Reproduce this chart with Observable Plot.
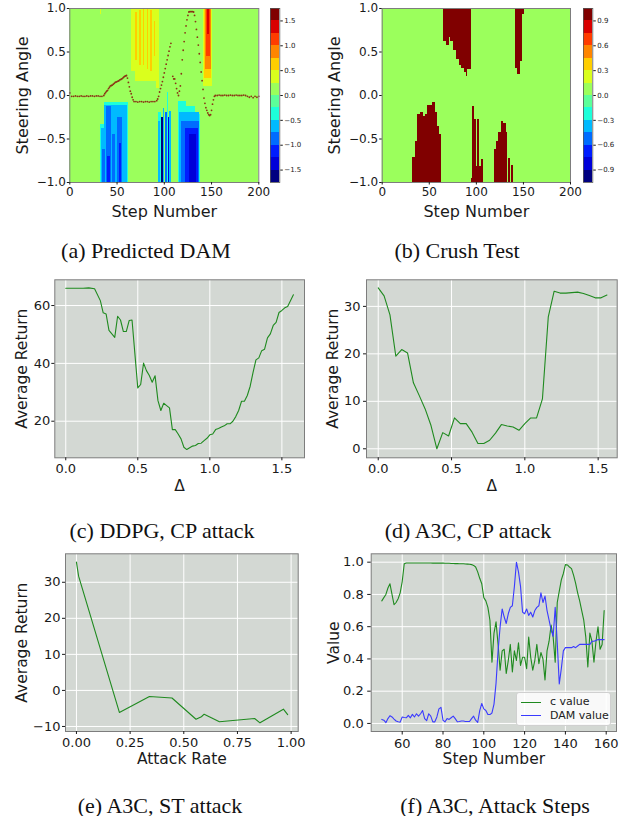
<!DOCTYPE html>
<html><head><meta charset="utf-8">
<script src="https://cdn.jsdelivr.net/npm/d3@7"></script>
<script src="https://cdn.jsdelivr.net/npm/@observablehq/plot@0.6"></script>
<style>
body{margin:0;background:#fff;}
#page{position:relative;width:635px;height:816px;overflow:hidden;font-family:"DejaVu Sans";}
.panel{position:absolute;}
.panel svg{overflow:visible;}
.cap{position:absolute;font-family:"Liberation Serif";font-size:22px;line-height:21px;white-space:nowrap;transform:translateX(-50%);color:#111;}
.legend{position:absolute;left:516px;top:692px;width:93px;height:32px;background:rgba(255,255,255,0.85);border:1px solid #d0d0d0;border-radius:3px;font-family:"DejaVu Sans";font-size:11px;color:#222;}
.legend .row{position:absolute;left:4px;height:13px;line-height:13px;white-space:nowrap;}
.legend .swatch{display:inline-block;width:20px;height:0;vertical-align:middle;margin-right:9px;}
</style></head>
<body><div id="page"></div>
<script>
// ---------------- data ----------------
// (a) Predicted DAM: contour regions [step1, step2, angle1, angle2, value]
const damBackground = [[0, 200, -1, 1, 0.1]];
const damRegions = [
  [33, 34, 0.93, 1.0, 0.35],
  [65, 69, 0.28, 1.0, 0.35], [69, 92, 0.16, 1.0, 0.35], [92, 95, 0.08, 1.0, 0.35],
  [70, 71.5, 0.40, 0.95, 0.6], [73.5, 75.5, 0.35, 0.98, 0.6], [77.5, 79.5, 0.35, 1.0, 0.6],
  [82, 83.5, 0.30, 1.0, 0.6], [85.5, 87.5, 0.28, 0.98, 0.6], [89.5, 90.5, 0.45, 0.85, 0.6],
  [141.5, 150.5, 0.10, 1.0, 0.35], [142.5, 150, 0.20, 1.0, 0.6], [143.5, 149.5, 0.30, 1.0, 0.85],
  [144.5, 148.5, 0.45, 1.0, 1.1], [145.5, 147.5, 0.70, 1.0, 1.35],
  [33, 36.5, -1, -0.33, -0.35], [36.5, 62.5, -1, -0.08, -0.35],
  [34, 37, -1, -0.38, -0.6], [37, 61.5, -1, -0.11, -0.6],
  [35, 37.5, -1, -0.62, -0.85], [38.5, 44.5, -1, -0.13, -0.85], [45.5, 48, -1, -0.45, -0.85],
  [51, 56, -1, -0.25, -0.85], [59.5, 60.5, -1, -0.15, -0.85],
  [40, 43, -1, -0.70, -1.1], [53, 55, -1, -0.55, -1.1],
  [93.5, 97, -1, -0.2, -0.35], [94, 96.5, -1, -0.3, -0.6], [97.5, 99, -1, -0.25, -1.6],
  [99, 100.5, -1, -0.15, -0.6], [101, 103, -1, -0.2, -0.85], [103.5, 104.5, -1, 0.03, -0.35],
  [104.5, 106, -1, -0.25, -1.35], [106, 108, -1, -0.18, -0.6],
  [115.5, 123, -1, -0.07, -0.35], [123, 132.5, -1, -0.13, -0.35], [132.5, 138, -1, -0.22, -0.35],
  [116.5, 137.5, -1, -0.2, -0.6], [118, 137, -1, -0.3, -0.85], [122, 136, -1, -0.38, -1.1],
  [127, 134, -1, -0.45, -1.35]
];
// (a) steering trajectory [step, angle]
const damTrajectory = [
  [0,0.03],[2,-0.01],[4,-0.01],[6,-0.005],[8,-0.01],[10,-0.01],[12,-0.005],[14,-0.01],[16,-0.01],[18,-0.005],
  [20,-0.01],[22,-0.005],[24,-0.005],[26,-0.01],[28,-0.005],[30,-0.005],[32,-0.01],[34,-0.01],[36,0.0],
  [37,0.02],[38,0.035],[39,0.05],[40,0.06],[41,0.08],[42,0.095],[43,0.11],[44,0.115],[45,0.12],[46,0.13],
  [47,0.14],[48,0.15],[49,0.155],[50,0.16],[51,0.165],[52,0.17],[53,0.18],[54,0.185],[55,0.19],[56,0.2],
  [57,0.21],[58,0.22],[59,0.225],[60,0.23],[61,0.2],[62,0.15],[63,0.1],[64,0.05],[65,0.02],[66,-0.02],
  [67,-0.05],[68,-0.07],[70,-0.07],[72,-0.075],[74,-0.07],[76,-0.07],[78,-0.075],[80,-0.07],[82,-0.07],
  [84,-0.075],[86,-0.07],[88,-0.07],[90,-0.07],[92,-0.06],[93,-0.04],[94,-0.01],[95,0.04],[96,0.08],
  [97,0.12],[98,0.16],[99,0.21],[100,0.26],[101,0.31],[102,0.36],[103,0.41],[104,0.46],[105,0.51],
  [106,0.56],[107,0.6],[109,0.22],[110,0.19],[111,0.19],[112,0.14],[113,0.08],[114,0.03],[115,0.0],
  [116,0.05],[117,0.11],[118,0.25],[119,0.41],[120,0.52],[121,0.62],[122,0.72],[123,0.8],[124,0.87],
  [125,0.92],[126,0.96],[127,0.965],[128,0.965],[129,0.965],[130,0.965],[131,0.96],[132,0.92],[133,0.85],
  [134,0.76],[135,0.67],[136,0.58],[137,0.48],[138,0.38],[139,0.27],[140,0.17],[141,0.07],[142,-0.03],
  [143,-0.09],[144,-0.14],[145,-0.17],[146,-0.2],[147,-0.22],[148,-0.23],[149,-0.22],[150,-0.17],
  [151,-0.1],[152,-0.05],[153,-0.01],[154,0.0],[156,0.0],[158,0.005],[160,0.0],[162,0.0],[164,0.005],
  [166,0.0],[168,0.0],[170,0.005],[172,0.0],[174,0.0],[176,0.005],[178,0.0],[180,0.0],[182,0.0],
  [184,0.005],[186,0.0],[188,-0.01],[190,-0.02],[192,-0.01],[194,-0.025],[196,-0.01],[198,-0.02],[200,-0.01]
];
// (b) Crush Test: crash regions [step1, step2, edge angle]
const crushBackground = [[0, 200, -1, 1, 0.05]];
const crushValue = 1.0;
const crushTop = [
  [65.5,68,0.62],[68,71,0.58],[71,73,0.67],[73,76,0.62],[76,79,0.52],[79,82,0.41],[82,84.5,0.35],
  [84.5,87.5,0.31],[87.5,90,0.26],[90,91,0.22],[91,94.5,0.30],
  [142,144,0.31],[144,147,0.24],[147,149.5,0.39],[149.5,151,0.93]
];
const crushBottom = [
  [32.5,35.4,-0.71],[35.4,38,-0.53],[38,40.7,-0.22],[40.7,43.5,-0.2],[43.5,46,-0.24],[46,48.5,-0.22],
  [48.5,51.3,-0.12],[51.3,53.8,-0.11],[53.8,56.3,-0.08],[56.3,58.4,-0.2],[58.4,60.5,-0.36],[60.5,62.7,-0.45],
  [94.5,96,-0.95],[96,98,-0.13],[98,100,-0.28],[100,101.6,-0.82],[101.6,103.7,-0.28],[103.7,106,-0.82],[106,108,-0.74],
  [119,121.3,-0.62],[121.3,123.9,-0.53],[123.9,126.4,-0.43],[126.4,129.2,-0.30],[129.2,131.7,-0.32],
  [131.7,133.5,-0.43],[134.5,136.3,-0.72],[137.3,139,-0.80]
];
// colour bar levels and ticks
const damLevels = [-1.75,-1.5,-1.25,-1.0,-0.75,-0.5,-0.25,0.0,0.25,0.5,0.75,1.0,1.25,1.5,1.75];
const crushLevels = [-1.05,-0.9,-0.75,-0.6,-0.45,-0.3,-0.15,0.0,0.15,0.3,0.45,0.6,0.75,0.9,1.05];
const damBarTicks = [-1.5,-1.0,-0.5,0.0,0.5,1.0,1.5];
const crushBarTicks = [-0.9,-0.6,-0.3,0.0,0.3,0.6,0.9];
const heatXTicks = [0,50,100,150,200];
const heatYTicks = [-1.0,-0.5,0.0,0.5,1.0];

// (c) DDPG, CP attack
const ddpgDelta = [0.00,0.04,0.08,0.12,0.16,0.20,0.24,0.26,0.28,0.30,0.34,0.36,0.38,0.40,0.42,0.44,0.46,0.50,0.52,0.54,0.56,0.58,0.60,0.62,0.64,0.66,0.68,0.70,0.72,0.74,0.76,0.78,0.80,0.82,0.84,0.86,0.88,0.90,0.92,0.94,0.96,0.98,1.00,1.02,1.04,1.06,1.08,1.10,1.12,1.14,1.16,1.18,1.20,1.22,1.24,1.26,1.28,1.30,1.32,1.34,1.36,1.38,1.40,1.42,1.44,1.46,1.48,1.50,1.52,1.54,1.58];
const ddpgReturn = [66.0,66.0,66.0,66.0,66.1,65.8,61.7,57.5,57.1,51.4,49.0,56.3,55.0,51.0,51.0,54.8,55.0,31.5,32.7,40.1,37.5,35.8,33.5,35.7,27.1,23.7,26.2,25.4,24.6,17.1,17.1,15.6,13.9,11.0,10.2,10.8,11.4,11.6,12.3,12.4,13.3,14.1,15.3,15.6,17.1,17.5,18.0,18.4,19.1,19.1,20.0,21.6,23.7,26.9,26.9,28.9,32.1,36.9,41.2,41.9,44.4,44.9,48.8,50.2,53.1,54.2,57.6,58.3,59.2,59.7,63.7];
// (d) A3C, CP attack
const a3cDelta = [0.00,0.04,0.08,0.12,0.16,0.20,0.24,0.28,0.32,0.36,0.40,0.44,0.48,0.52,0.56,0.60,0.64,0.68,0.72,0.76,0.80,0.84,0.88,0.92,0.96,1.00,1.04,1.08,1.12,1.16,1.20,1.24,1.28,1.32,1.36,1.40,1.44,1.48,1.52,1.56];
const a3cReturn = [33.9,32.2,28.2,19.5,20.9,20.2,13.9,11.2,8.4,4.9,0.0,3.4,2.7,6.5,5.3,5.3,3.5,1.1,1.1,1.8,3.3,5.1,4.8,4.6,3.9,5.3,6.5,6.5,10.5,27.8,33.2,32.8,32.8,32.9,33.0,32.7,32.3,31.8,31.8,32.4];
// (e) A3C, ST attack
const stRate = [0.0,0.01,0.2,0.34,0.445,0.557,0.582,0.595,0.666,0.83,0.855,0.964,0.984];
const stReturn = [35.6,31.7,-6.1,-1.7,-2.1,-8.0,-7.3,-6.6,-8.7,-7.8,-9.0,-5.2,-6.7];
// (f) A3C, Attack Steps
const attackSteps = [50,51,52,53,54,55,56,57,58,59,60,61,62,63,64,65,66,67,68,69,70,71,72,73,74,75,76,77,78,79,80,81,82,83,84,85,86,87,88,89,90,91,92,93,94,95,96,97,98,99,100,101,102,103,104,105,106,107,108,109,110,111,112,113,114,115,116,117,118,119,120,121,122,123,124,125,126,127,128,129,130,131,132,133,134,135,136,137,138,139,140,141,142,143,144,145,146,147,148,149,150,151,152,153,154,155,156,157,158,159];
const cValue = [0.76,0.78,0.80,0.84,0.866,0.80,0.736,0.75,0.773,0.81,
  0.88,0.99,0.995,0.995,0.995,0.995,0.995,0.995,0.995,0.995,
  0.995,0.995,0.995,0.995,0.995,0.994,0.994,0.994,0.994,0.994,
  0.994,0.993,0.993,0.993,0.992,0.992,0.991,0.991,0.990,0.990,
  0.990,0.989,0.988,0.987,0.985,0.98,0.97,0.94,0.90,0.866,
  0.78,0.76,0.72,0.64,0.38,0.56,0.63,0.49,0.33,0.45,
  0.46,0.31,0.39,0.49,0.32,0.45,0.39,0.50,0.36,0.41,
  0.41,0.34,0.535,0.41,0.33,0.39,0.49,0.37,0.44,0.40,
  0.27,0.45,0.51,0.61,0.535,0.38,0.75,0.82,0.89,0.93,
  0.985,0.983,0.97,0.96,0.92,0.87,0.81,0.76,0.70,0.64,
  0.535,0.35,0.56,0.51,0.38,0.51,0.60,0.46,0.49,0.70];
const damValue = [0.025,0.02,0.005,0.03,0.048,0.04,0.027,0.015,0.01,0.008,
  0.04,0.037,0.035,0.05,0.035,0.056,0.04,0.06,0.045,0.06,
  0.08,0.03,0.017,0.06,0.045,0.01,0.01,0.04,0.09,0.10,
  0.02,0.01,0.03,0.025,0.035,0.045,0.03,0.01,0.012,0.015,
  0.015,0.012,0.012,0.012,0.03,0.045,0.02,0.006,0.08,0.124,
  0.09,0.08,0.055,0.055,0.065,
  0.12,0.25,0.45,0.60,0.71,0.66,0.62,0.68,0.72,0.73,
  0.85,1.0,0.94,0.85,0.69,0.68,0.71,0.67,0.69,0.66,
  0.70,0.72,0.73,0.81,0.75,0.79,0.70,0.64,0.58,0.54,
  0.72,0.5,0.245,0.34,0.45,
  0.47,0.47,0.47,0.47,0.477,0.47,0.48,0.49,0.49,0.49,
  0.49,0.49,0.49,0.51,0.51,0.515,0.52,0.52,0.52,0.52];
const legendLabels = ["c value", "DAM value"];
const captions = ["(a) Predicted DAM","(b) Crush Test","(c) DDPG, CP attack","(d) A3C, CP attack","(e) A3C, ST attack","(f) A3C, Attack Steps"];

// ---------------- styles ----------------
const jetColors = ["#000080","#0000d9","#001dff","#006cff","#00baff","#1dffda","#5cff9a","#9bff5c","#daff1d","#ffce00","#ff8500","#ff3c00","#d90000","#800000"];
const panelBg = "#d3d8d3";
const frameStroke = "#7d7d7d";
const baseStyle = {fontFamily: "DejaVu Sans", fontSize: "12px", color: "#1a1a1a", background: "none", overflow: "visible"};
const f1 = d3.format(".1f"), f2 = d3.format(".2f"), fd = d3.format("d");

const page = document.getElementById("page");
function mount(node, left, top) {
  const d = document.createElement("div");
  d.className = "panel"; d.style.left = left + "px"; d.style.top = top + "px";
  d.appendChild(node); page.appendChild(d);
}
function xLabelMark(text, dy, size) {
  return Plot.text([text], {frameAnchor: "bottom", dy, fontSize: size, textAnchor: "middle", lineAnchor: "middle"});
}
function yLabelMark(text, dx, size) {
  return Plot.text([text], {frameAnchor: "left", dx, rotate: -90, fontSize: size, textAnchor: "middle", lineAnchor: "middle"});
}

// ---------------- heatmaps ----------------
function heatmap({width, ml, mr, levels, bg, regions, top, bottom, value, dots}) {
  const marks = [
    Plot.rect(bg, {x1: d => d[0], x2: d => d[1], y1: d => d[2], y2: d => d[3], fill: d => d[4]})
  ];
  if (regions) marks.push(Plot.rect(regions, {x1: d => d[0], x2: d => d[1], y1: d => d[2], y2: d => d[3], fill: d => d[4], shapeRendering: "crispEdges"}));
  if (top) marks.push(Plot.rect(top, {x1: d => d[0], x2: d => d[1], y1: d => d[2], y2: 1, fill: () => value, shapeRendering: "crispEdges"}));
  if (bottom) marks.push(Plot.rect(bottom, {x1: d => d[0], x2: d => d[1], y1: -1, y2: d => d[2], fill: () => value, shapeRendering: "crispEdges"}));
  if (dots) marks.push(Plot.dot(dots, {x: d => d[0], y: d => d[1], r: 0.9, fill: "#8a3515", stroke: null}));
  marks.push(
    Plot.frame({stroke: frameStroke, strokeWidth: 1}),
    Plot.axisX(heatXTicks, {tickFormat: fd, tickSize: 2.5, tickPadding: 2, label: null, fontSize: 12}),
    Plot.axisY(heatYTicks, {tickFormat: f1, tickSize: 2.5, tickPadding: 1.5, label: null, fontSize: 12}),
    xLabelMark("Step Number", 29, 16),
    yLabelMark("Steering Angle", -47.3, 16)
  );
  return Plot.plot({
    width, height: 230, marginLeft: ml, marginRight: mr, marginTop: 8, marginBottom: 48,
    x: {domain: [0, 200]}, y: {domain: [-1, 1]},
    color: {type: "threshold", domain: levels.slice(1, -1), range: jetColors},
    style: baseStyle, marks
  });
}
function colorbar(levels, ticks) {
  return Plot.plot({
    width: 48, height: 230, marginLeft: 8, marginRight: 30.7, marginTop: 8, marginBottom: 48,
    y: {domain: [levels[0], levels[levels.length - 1]]},
    color: {type: "threshold", domain: levels.slice(1, -1), range: jetColors},
    style: baseStyle,
    marks: [
      Plot.rect(d3.range(levels.length - 1), {y1: i => levels[i], y2: i => levels[i + 1], fill: i => (levels[i] + levels[i + 1]) / 2, shapeRendering: "crispEdges"}),
      Plot.frame({stroke: "#555", strokeWidth: 0.8}),
      Plot.axisY(ticks, {anchor: "right", tickSize: 2.5, tickPadding: 2, fontSize: 7, tickFormat: f1, label: null})
    ]
  });
}

mount(heatmap({width: 262, ml: 69.3, mr: 3.7, levels: damLevels, bg: damBackground, regions: damRegions, dots: damTrajectory}), 0, 0);
mount(colorbar(damLevels, damBarTicks), 262, 0);
mount(heatmap({width: 270, ml: 71.7, mr: 10, levels: crushLevels, bg: crushBackground, top: crushTop, bottom: crushBottom, value: crushValue}), 310, 0);
mount(colorbar(crushLevels, crushBarTicks), 574.7, 0);

// ---------------- line panels ----------------
function linePanel(o) {
  const marks = [
    Plot.frame({fill: panelBg, stroke: null}),
    Plot.gridX(o.xTicks, {stroke: "#ffffff", strokeOpacity: 1, strokeWidth: 1}),
    Plot.gridY(o.yTicks, {stroke: "#ffffff", strokeOpacity: 1, strokeWidth: 1}),
    ...o.series.map(s => Plot.line(s.x.map((x, i) => [x, s.y[i]]), {x: d => d[0], y: d => d[1], stroke: s.color, strokeWidth: 1.1})),
    Plot.frame({stroke: frameStroke, strokeWidth: 1}),
    Plot.axisX(o.xTicks, {tickFormat: o.xFmt, tickSize: o.ts, tickPadding: o.xPad, label: null, fontSize: 13}),
    Plot.axisY(o.yTicks, {tickFormat: o.yFmt, tickSize: o.ts, tickPadding: o.yPad, label: null, fontSize: 13}),
    xLabelMark(o.xLabel, o.xDy, 15.5),
    yLabelMark(o.yLabel, o.yDx, 15.5)
  ];
  return Plot.plot({
    width: o.width, height: 230, marginLeft: o.ml, marginRight: o.mr, marginTop: o.mt, marginBottom: o.mb,
    x: {domain: o.xDomain}, y: {domain: o.yDomain},
    style: baseStyle, marks
  });
}
const green = "#1f8a1f", blue = "#3a3aff";
mount(linePanel({width: 310, ml: 54.3, mr: 6, mt: 9.3, mb: 42.7, xDomain: [-0.076, 1.657], yDomain: [7.35, 68.9],
  xTicks: [0, 0.5, 1.0, 1.5], yTicks: [20, 40, 60], xFmt: f1, yFmt: fd, ts: 3, xPad: 2.5, yPad: 1.5,
  series: [{x: ddpgDelta, y: ddpgReturn, color: green}], xLabel: "Δ", yLabel: "Average Return", xDy: 28, yDx: -33}), 0, 270);
mount(linePanel({width: 325, ml: 56, mr: 18.3, mt: 9.3, mb: 42.7, xDomain: [-0.08, 1.63], yDomain: [-1.9, 35.6],
  xTicks: [0, 0.5, 1.0, 1.5], yTicks: [0, 10, 20, 30], xFmt: f1, yFmt: fd, ts: 3, xPad: 2.5, yPad: 3,
  series: [{x: a3cDelta, y: a3cReturn, color: green}], xLabel: "Δ", yLabel: "Average Return", xDy: 28, yDx: -33}), 310, 270);
mount(linePanel({width: 310, ml: 65, mr: 12.3, mt: 13.3, mb: 39, xDomain: [-0.051, 1.033], yDomain: [-11.4, 37.9],
  xTicks: [0, 0.25, 0.5, 0.75, 1.0], yTicks: [-10, 0, 10, 20, 30], xFmt: f2, yFmt: fd, ts: 3, xPad: 3, yPad: 2,
  series: [{x: stRate, y: stReturn, color: green}], xLabel: "Attack Rate", yLabel: "Average Return", xDy: 27.5, yDx: -43}), 0, 540);
mount(linePanel({width: 325, ml: 60.7, mr: 19, mt: 13.3, mb: 39, xDomain: [44.8, 165.05], yDomain: [-0.05, 1.052],
  xTicks: [60, 80, 100, 120, 140, 160], yTicks: [0, 0.2, 0.4, 0.6, 0.8, 1.0], xFmt: fd, yFmt: f1, ts: 3.5, xPad: 4, yPad: 4,
  series: [{x: attackSteps, y: cValue, color: green}, {x: attackSteps, y: damValue, color: blue}],
  xLabel: "Step Number", yLabel: "Value", xDy: 28, yDx: -37.5}), 310, 540);

// legend for (f)
const leg = document.createElement("div");
leg.className = "legend";
[green, blue].forEach((c, i) => {
  const r = document.createElement("div");
  r.className = "row"; r.style.top = (2 + i * 13.5) + "px";
  const sw = document.createElement("span");
  sw.className = "swatch"; sw.style.borderTop = "1.3px solid " + c;
  r.appendChild(sw); r.appendChild(document.createTextNode(legendLabels[i]));
  leg.appendChild(r);
});
page.appendChild(leg);

// captions
const capPos = [[146, 240], [457, 240], [162, 520], [468, 520], [160, 794.5], [495, 794.5]];
captions.forEach((t, i) => {
  const c = document.createElement("div");
  c.className = "cap"; c.style.left = capPos[i][0] + "px"; c.style.top = capPos[i][1] + "px";
  c.textContent = t; page.appendChild(c);
});
</script></body></html>
